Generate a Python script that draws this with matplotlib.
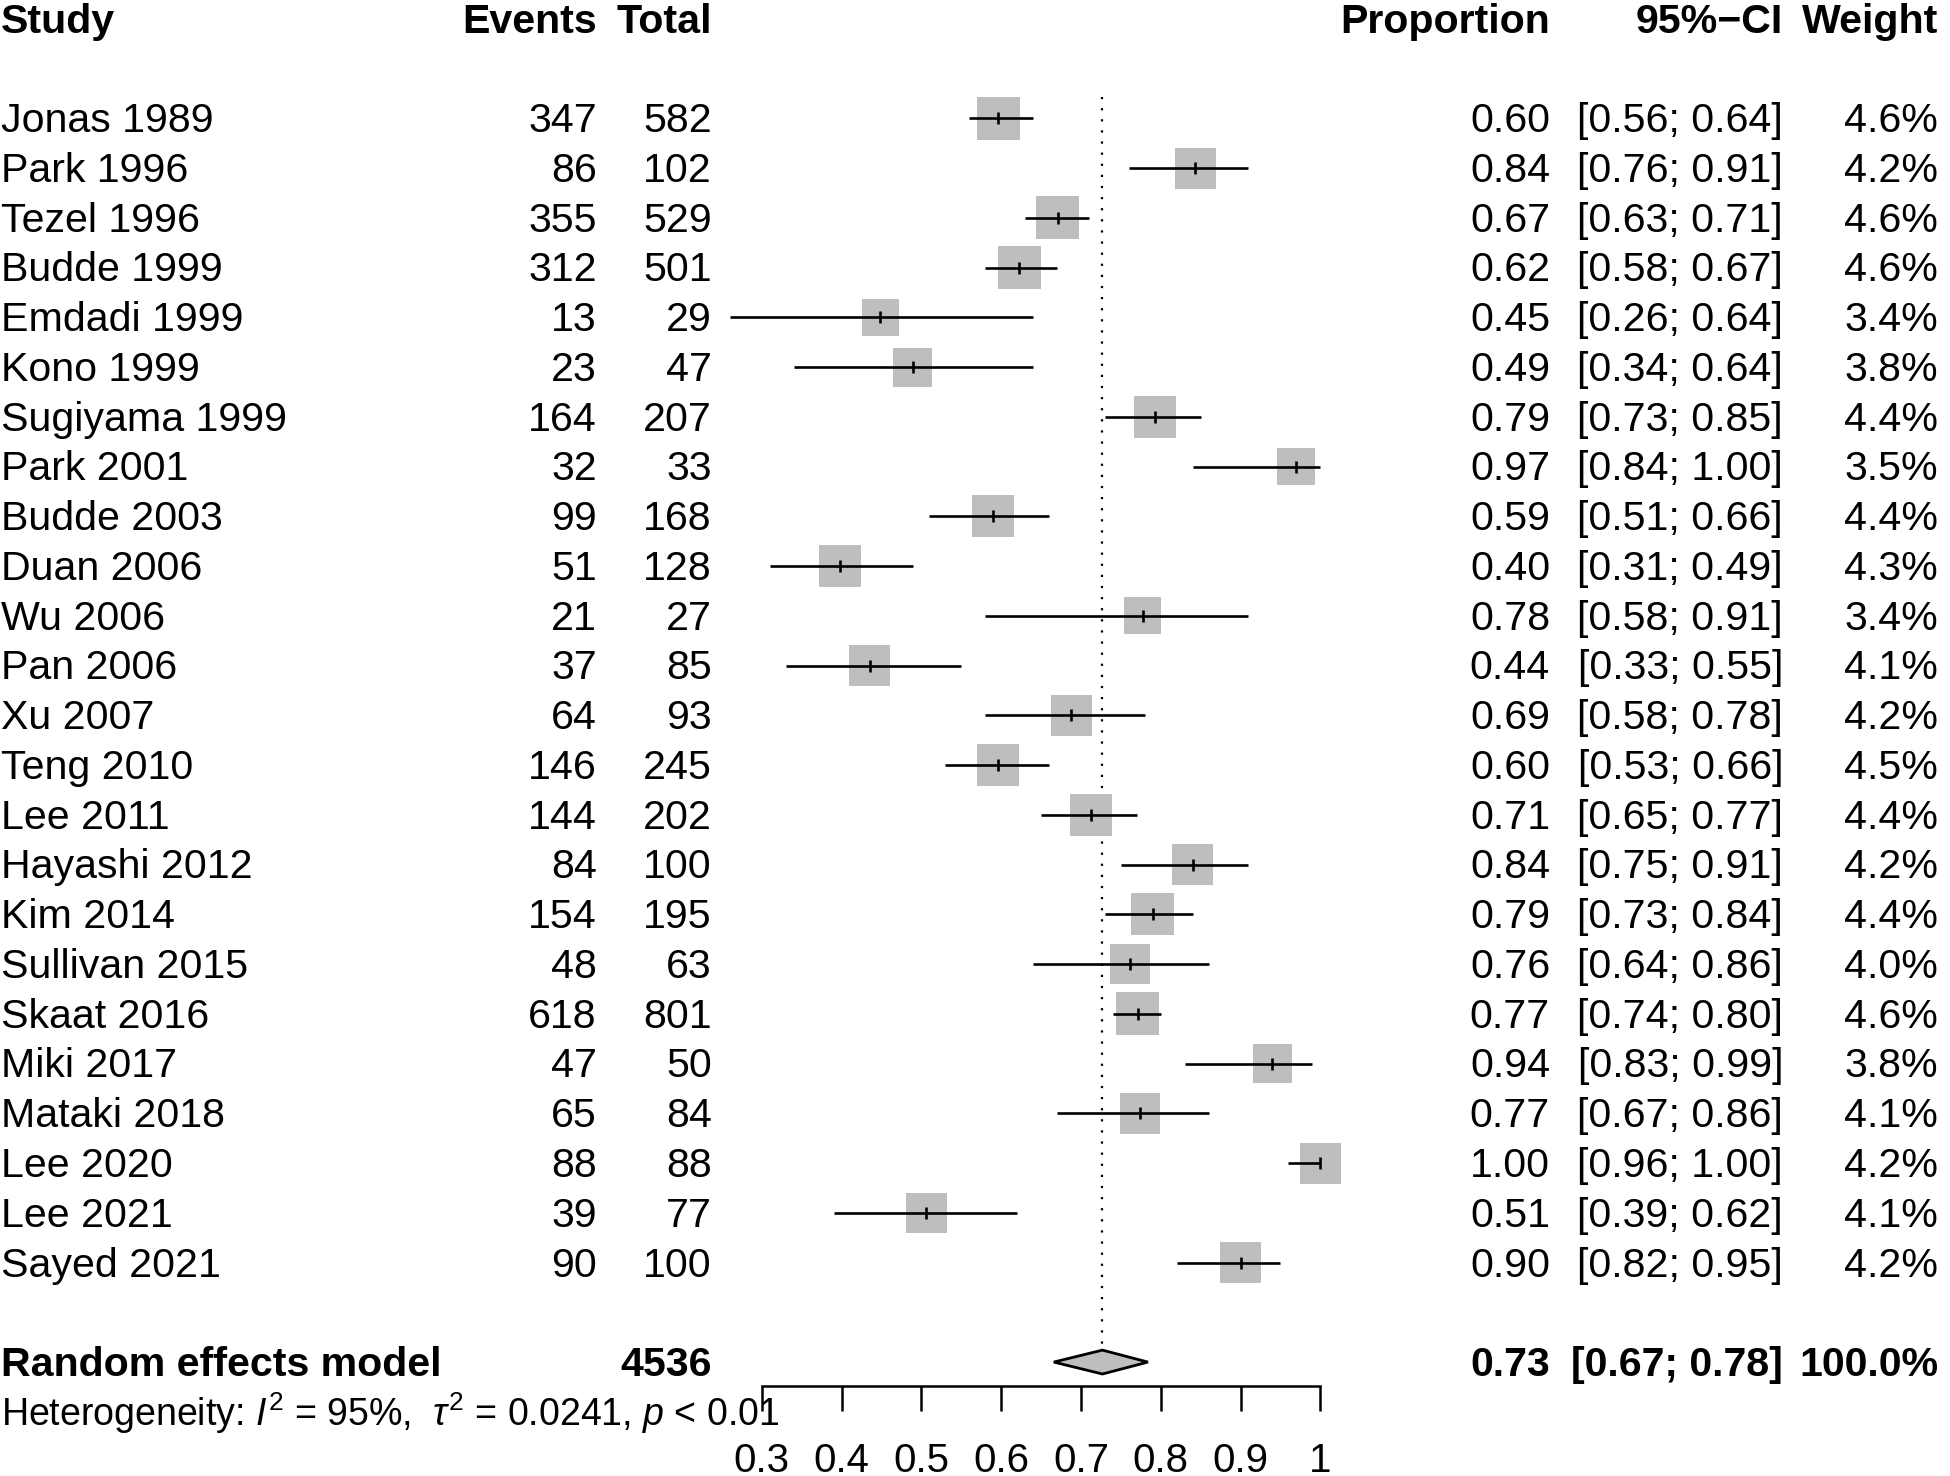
import matplotlib
matplotlib.use("Agg")
import matplotlib.pyplot as plt
from matplotlib.patches import Polygon
from matplotlib.transforms import blended_transform_factory

plt.rcParams["font.family"] = ["Liberation Sans", "DejaVu Sans"]
plt.rcParams["mathtext.fontset"] = "custom"
plt.rcParams["mathtext.rm"] = "Liberation Sans"
plt.rcParams["mathtext.it"] = "Liberation Sans:italic"

# Data
studies = ["Jonas 1989", "Park 1996", "Tezel 1996", "Budde 1999", "Emdadi 1999",
           "Kono 1999", "Sugiyama 1999", "Park 2001", "Budde 2003", "Duan 2006",
           "Wu 2006", "Pan 2006", "Xu 2007", "Teng 2010", "Lee 2011",
           "Hayashi 2012", "Kim 2014", "Sullivan 2015", "Skaat 2016", "Miki 2017",
           "Mataki 2018", "Lee 2020", "Lee 2021", "Sayed 2021"]
events = [347, 86, 355, 312, 13, 23, 164, 32, 99, 51, 21, 37, 64, 146, 144,
          84, 154, 48, 618, 47, 65, 88, 39, 90]
totals = [582, 102, 529, 501, 29, 47, 207, 33, 168, 128, 27, 85, 93, 245, 202,
          100, 195, 63, 801, 50, 84, 88, 77, 100]
ci_low = [0.56, 0.76, 0.63, 0.58, 0.26, 0.34, 0.73, 0.84, 0.51, 0.31, 0.58, 0.33,
          0.58, 0.53, 0.65, 0.75, 0.73, 0.64, 0.74, 0.83, 0.67, 0.96, 0.39, 0.82]
ci_high = [0.64, 0.91, 0.71, 0.67, 0.64, 0.64, 0.85, 1.00, 0.66, 0.49, 0.91, 0.55,
           0.78, 0.66, 0.77, 0.91, 0.84, 0.86, 0.80, 0.99, 0.86, 1.00, 0.62, 0.95]
weights = [4.6, 4.2, 4.6, 4.6, 3.4, 3.8, 4.4, 3.5, 4.4, 4.3, 3.4, 4.1, 4.2, 4.5,
           4.4, 4.2, 4.4, 4.0, 4.6, 3.8, 4.1, 4.2, 4.1, 4.2]
pooled, pooled_lo, pooled_hi = 0.727, 0.666, 0.784
total_n = 4536
het_text = r"Heterogeneity: $I^2$ = 95%,  $\tau^2$ = 0.0241, $p$ < 0.01"
xticks = [0.3, 0.4, 0.5, 0.6, 0.7, 0.8, 0.9, 1.0]
xtick_labels = ["0.3", "0.4", "0.5", "0.6", "0.7", "0.8", "0.9", "1"]

props = [e / n for e, n in zip(events, totals)]

W, H = 1950, 1476
fig = plt.figure(figsize=(W / 100, H / 100), dpi=100)
ax = fig.add_axes([761.7 / W, 0, (1320.3 - 761.7) / W, 1])
ax.set_xlim(0.3, 1.0)
ax.set_ylim(27.29, -2.378)
for s in ["top", "left", "right"]:
    ax.spines[s].set_visible(False)
ax.spines["bottom"].set_position(("data", 25.48))
ax.spines["bottom"].set_linewidth(1.8)
ax.set_yticks([])
ax.set_xticks(xticks)
ax.set_xticklabels(xtick_labels)
ax.tick_params(axis="x", length=18, width=1.8, pad=22, labelsize=29)
ax.patch.set_visible(False)

rows = list(range(len(studies)))
gray = "#BEBEBE"
lw = 1.9

# squares, whiskers, point ticks
sizes = [(20.05 * w ** 0.5 * 0.72) ** 2 for w in weights]
ax.scatter(props, rows, s=sizes, marker="s", color=gray, linewidths=0,
           clip_on=False, zorder=2)
ax.hlines(rows, ci_low, ci_high, color="black", lw=lw, clip_on=False, zorder=3)
ax.vlines(props, [r - 0.12 for r in rows], [r + 0.12 for r in rows],
          color="black", lw=lw, clip_on=False, zorder=3)

# pooled estimate
r_pool = 25
ax.vlines(pooled, -0.43, r_pool - 0.26, color="black", lw=1.6,
          linestyles=(0, (1, 4)), zorder=1)
diamond = Polygon([(pooled_lo, r_pool), (pooled, r_pool - 0.24),
                   (pooled_hi, r_pool), (pooled, r_pool + 0.24)],
                  closed=True, facecolor=gray, edgecolor="black", lw=2.0,
                  clip_on=False, zorder=3)
ax.add_patch(diamond)

# text columns
tr = blended_transform_factory(fig.transFigure, ax.transData)
fs = 29.6
off = 0.28
x_study, x_ev, x_tot = 1 / W, 597 / W, 712 / W
x_prop, x_ci, x_w = 1550 / W, 1783 / W, 1938 / W

hdr_y = -1.715
for x, lab, ha in [(x_study, "Study", "left"), (x_ev, "Events", "right"),
                   (x_tot, "Total", "right"), (x_prop, "Proportion", "right"),
                   (x_ci, "95%\u2212CI", "right"), (x_w, "Weight", "right")]:
    ax.text(x, hdr_y, lab, transform=tr, ha=ha, va="baseline",
            fontsize=fs, fontweight="bold")

for i in rows:
    y = i + off
    ax.text(x_study, y, studies[i], transform=tr, ha="left", va="baseline", fontsize=fs)
    ax.text(x_ev, y, str(events[i]), transform=tr, ha="right", va="baseline", fontsize=fs)
    ax.text(x_tot, y, str(totals[i]), transform=tr, ha="right", va="baseline", fontsize=fs)
    ax.text(x_prop, y, f"{props[i]:.2f}", transform=tr, ha="right", va="baseline", fontsize=fs)
    ax.text(x_ci, y, f"[{ci_low[i]:.2f}; {ci_high[i]:.2f}]", transform=tr,
            ha="right", va="baseline", fontsize=fs)
    ax.text(x_w, y, f"{weights[i]:.1f}%", transform=tr, ha="right", va="baseline", fontsize=fs)

y = r_pool + off
bold = dict(transform=tr, va="baseline", fontsize=fs, fontweight="bold")
ax.text(x_study, y, "Random effects model", ha="left", **bold)
ax.text(x_tot, y, str(total_n), ha="right", **bold)
ax.text(x_prop, y, f"{pooled:.2f}", ha="right", **bold)
ax.text(x_ci, y, f"[{pooled_lo:.2f}; {pooled_hi:.2f}]", ha="right", **bold)
ax.text(x_w, y, "100.0%", ha="right", **bold)

ax.text(x_study, 26 + off, het_text, transform=tr, ha="left", va="baseline", fontsize=27)

fig.savefig("out.png", dpi=100)
